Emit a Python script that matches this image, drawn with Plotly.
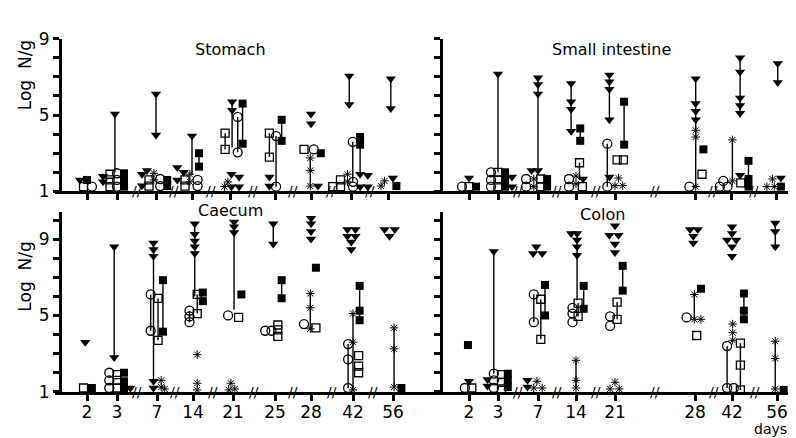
import plotly.graph_objects as go

W, H = 796, 438

# ---------------- data ----------------
LEFT_DAYS = [2, 3, 7, 14, 21, 25, 28, 42, 56]
RIGHT_DAYS = [2, 3, 7, 14, 21, 28, 42, 56]
PANEL_TITLES = ["Stomach", "Small intestine", "Caecum", "Colon"]
Y_TICK_LABELS = {1: "1", 5: "5", 9: "9"}

# columns: (day, series, slot, values, line)
#   series: cir = open circle, osq = open square, fsq = filled square,
#           tri = filled down-triangle, ast = asterisk
#   line: None | "r" (connect min..max) | number (line to that log value)
STOMACH = [
    (2, "tri", -1, [1.6], None), (2, "fsq", 0, [1.6], None),
    (2, "osq", -0.5, [1.25], None), (2, "cir", 0.7, [1.25], None),
    (3, "tri", -0.3, [5.05], 2.0), (3, "tri", -2, [1.8, 1.5], None),
    (3, "osq", -1, [1.25, 1.6, 1.9], None), (3, "cir", 0, [1.25, 1.6, 1.95], None),
    (3, "fsq", 1, [1.25, 1.6, 1.95], None),
    (7, "tri", 0, [6.1, 3.95], "r"), (7, "tri", -2, [1.9, 1.3], None),
    (7, "tri", -1.3, [2.1], None), (7, "osq", -1, [1.6, 1.28], None),
    (7, "ast", -0.3, [1.95, 1.6], None), (7, "cir", 0.6, [1.65, 1.28], None),
    (7, "fsq", 1.6, [1.6, 1.28], None),
    (14, "tri", 0, [3.9], 1.9), (14, "tri", -2.1, [2.25, 1.6], None),
    (14, "tri", -1.2, [2.0], None), (14, "osq", -1, [1.6, 1.28], None),
    (14, "ast", -0.3, [1.9, 1.5], None), (14, "cir", 0.8, [1.6, 1.28], None),
    (14, "fsq", 1, [3.0, 2.3], "r"),
    (21, "osq", -0.7, [4.05, 3.2], "r"), (21, "tri", 0.3, [5.7, 5.25], 3.3),
    (21, "cir", 1.1, [4.9, 3.05], "r"), (21, "fsq", 1.8, [5.6, 3.5], "r"),
    (21, "tri", 0.2, [1.9, 1.25], None), (21, "tri", 1.3, [1.75, 1.25], None),
    (21, "ast", -0.3, [1.5], None), (21, "ast", -0.8, [1.25], None),
    (25, "osq", -0.8, [4.05, 2.8], "r"), (25, "tri", -0.8, [1.75, 1.28], None),
    (25, "cir", 0.15, [3.9, 1.25], "r"), (25, "fsq", 0.95, [4.75, 3.65], "r"),
    (28, "tri", 0, [5.05, 4.55], None), (28, "osq", -1, [3.2], None),
    (28, "cir", 0.4, [3.2], None), (28, "fsq", 1.4, [3.0], None),
    (28, "ast", -0.1, [2.75, 2.1, 1.28], "r"), (28, "tri", 1, [1.28], None),
    (42, "tri", -0.25, [7.05, 5.55], "r"), (42, "cir", 0.25, [3.6], 1.5),
    (42, "fsq", 1.3, [3.85, 3.45], 1.9), (42, "tri", 1.3, [1.9, 1.25], None),
    (42, "osq", -2.6, [1.25], None), (42, "osq", -1.5, [1.6, 1.25], None),
    (42, "ast", -0.5, [1.9, 1.5], None), (42, "cir", 0.3, [1.5, 1.25], None),
    (42, "tri", 2.4, [1.85, 1.25], None),
    (56, "tri", 0.4, [6.9, 5.35], "r"), (56, "ast", -0.5, [1.55], None),
    (56, "ast", -1, [1.28], None), (56, "tri", 0.7, [1.7], None),
    (56, "fsq", 1.2, [1.28], None),
]

SMALL_INTESTINE = [
    (2, "cir", -1, [1.25], None), (2, "osq", 0, [1.25], None),
    (2, "fsq", 1, [1.25], None), (2, "tri", 0, [1.7], None),
    (3, "tri", 0, [7.15], 2.0), (3, "cir", -1, [2.0, 1.6, 1.25], None),
    (3, "osq", 0, [2.0, 1.6, 1.25], None), (3, "fsq", 1, [2.0, 1.6, 1.25], None),
    (3, "tri", 2, [1.75, 1.25], None),
    (7, "tri", 0, [6.95, 6.6, 6.1], 2.1), (7, "tri", -0.9, [2.1], None),
    (7, "tri", 0, [2.1], None), (7, "cir", -1.7, [1.65, 1.25], None),
    (7, "ast", -0.6, [1.65, 1.25], None), (7, "osq", 0.4, [1.65, 1.25], None),
    (7, "fsq", 1.3, [1.65, 1.25], None),
    (14, "tri", -0.7, [6.65, 5.7, 5.3, 4.15], "r"), (14, "fsq", 0.6, [4.3, 3.65], "r"),
    (14, "osq", 0.5, [2.5], 1.6), (14, "cir", -1, [1.65, 1.25], None),
    (14, "ast", 0, [1.8, 1.4], None), (14, "tri", 1, [1.65], None),
    (14, "osq", 0.9, [1.25], None),
    (21, "tri", -0.8, [7.1, 6.75, 6.35, 4.75], "r"), (21, "cir", -1.1, [3.5, 1.25], "r"),
    (21, "fsq", 1.3, [5.7, 3.45], "r"), (21, "osq", 0.3, [2.65], None),
    (21, "osq", 1.2, [2.65], None), (21, "tri", -0.8, [1.75], None),
    (21, "ast", 0.5, [1.7], None), (21, "ast", 0, [1.3], None),
    (21, "ast", 1.1, [1.3], None),
    (28, "tri", 0.1, [6.9, 5.6, 5.2, 4.75], 1.25), (28, "ast", 0.1, [4.2, 3.85, 1.25], None),
    (28, "cir", -0.8, [1.25], None), (28, "fsq", 1.2, [3.2], None),
    (28, "osq", 1, [1.9], None),
    (42, "tri", 1.3, [8.0, 7.25, 5.9, 5.5, 5.1], "r"), (42, "ast", 0.2, [3.7, 1.55], "r"),
    (42, "cir", -1.1, [1.55], None), (42, "cir", -1.6, [1.25], None),
    (42, "cir", -0.5, [1.25], None), (42, "tri", 1.3, [1.85], None),
    (42, "osq", 1.4, [1.45], None), (42, "fsq", 2.5, [2.6, 1.65, 1.25], "r"),
    (56, "tri", 0.25, [7.7, 6.7], "r"), (56, "ast", -0.5, [1.65], None),
    (56, "ast", -1.3, [1.25], None), (56, "ast", -0.25, [1.25], None),
    (56, "tri", 0.7, [1.7], None), (56, "fsq", 0.7, [1.25], None),
]

CAECUM = [
    (2, "tri", -0.25, [3.6], None), (2, "osq", -0.5, [1.2], None),
    (2, "fsq", 0.7, [1.2], None),
    (3, "tri", -0.4, [8.6, 2.8], "r"), (3, "cir", -1.1, [2.0, 1.6, 1.2], None),
    (3, "osq", 0, [1.9, 1.6, 1.2], None), (3, "fsq", 1, [2.0, 1.55, 1.2], None),
    (3, "tri", 1.9, [1.2], None),
    (7, "tri", -0.5, [8.8, 8.45, 8.1], 1.55), (7, "tri", -0.5, [1.55, 1.2], None),
    (7, "cir", -0.9, [6.1, 4.2], "r"), (7, "osq", 0.15, [5.9, 3.7], "r"),
    (7, "fsq", 0.85, [6.85, 4.15], "r"), (7, "ast", 0.6, [1.6, 1.25], None),
    (7, "ast", 1.1, [1.15], None),
    (14, "tri", 0.25, [9.8, 9.25, 8.9, 8.6, 8.25], 6.0), (14, "cir", -0.5, [5.25, 4.95, 4.65], "r"),
    (14, "osq", 0.6, [6.1, 5.1], "r"), (14, "fsq", 1.4, [6.2, 5.75], None),
    (14, "ast", 0.6, [2.95, 1.45, 1.1], None),
    (21, "tri", 0.15, [9.9, 9.65, 9.35], 5.3), (21, "cir", -0.7, [5.0], None),
    (21, "osq", 0.8, [4.9], None), (21, "fsq", 1.2, [6.1], None),
    (21, "ast", -0.3, [1.45], None), (21, "ast", 0.25, [1.15], None),
    (21, "ast", -0.6, [1.1], None),
    (25, "tri", -0.25, [9.8, 8.75], "r"), (25, "cir", -1.4, [4.2], None),
    (25, "cir", -0.5, [4.2], None), (25, "osq", 0.4, [4.5, 4.25, 3.9], None),
    (25, "fsq", 0.95, [6.85, 5.9], "r"),
    (28, "tri", 0, [10.1, 9.8, 9.4, 9.0], None), (28, "fsq", 0.7, [7.5], None),
    (28, "ast", -0.1, [6.15, 5.4, 4.3], "r"), (28, "cir", -1, [4.55], None),
    (28, "osq", 0.7, [4.35], None),
    (42, "tri", -0.8, [9.5, 9.15], None), (42, "tri", 0.35, [9.5, 9.15], None),
    (42, "tri", -0.25, [8.85, 8.45], None), (42, "cir", -0.7, [3.5, 2.7, 1.2], "r"),
    (42, "ast", 0, [5.1, 3.6, 1.1], "r"), (42, "osq", 0.8, [2.9, 2.35, 2.0], None),
    (42, "fsq", 0.95, [6.55, 5.25, 4.75], "r"),
    (56, "tri", -1.2, [9.5], None), (56, "tri", 0.25, [9.5], None),
    (56, "tri", -0.5, [9.15], None), (56, "ast", 0.15, [4.35, 3.25, 1.25], "r"),
    (56, "fsq", 1.2, [1.2], None),
]

COLON = [
    (2, "fsq", -0.15, [3.45], None), (2, "tri", 0, [1.55], None),
    (2, "cir", -0.6, [1.2], None), (2, "osq", 0.4, [1.2], None),
    (3, "tri", -0.6, [8.35], 1.95), (3, "tri", -1.5, [1.65, 1.3], None),
    (3, "cir", -0.6, [1.95, 1.6, 1.2], None), (3, "osq", 0.5, [1.9, 1.5, 1.15], None),
    (3, "fsq", 1.4, [1.95, 1.6, 1.25], None),
    (7, "tri", -0.25, [8.6], None), (7, "tri", -0.7, [8.25], None),
    (7, "tri", 0.6, [8.25], None), (7, "cir", -0.6, [6.1, 4.65], "r"),
    (7, "osq", 0.4, [5.85, 3.75], "r"), (7, "fsq", 1, [6.6, 5.0], "r"),
    (7, "tri", -1.5, [1.6, 1.25], None), (7, "ast", -0.15, [1.55], None),
    (7, "ast", -0.6, [1.2], None), (7, "ast", 0.6, [1.2], None),
    (14, "tri", -0.7, [9.3], None), (14, "tri", 0.15, [9.3, 8.95, 8.6, 8.15], 5.8),
    (14, "cir", -0.5, [5.4, 5.1, 4.65], None), (14, "osq", 0.3, [5.65, 4.95], "r"),
    (14, "fsq", 1.1, [6.55, 5.35], "r"), (14, "ast", 0, [2.65, 1.6, 1.2], "r"),
    (21, "tri", 0, [9.7, 8.75, 8.3], None), (21, "tri", -0.8, [9.2], None),
    (21, "tri", 0.5, [9.2], None), (21, "osq", 0.3, [5.7, 4.8], "r"),
    (21, "cir", -0.7, [4.95, 4.45], None), (21, "fsq", 1.1, [7.6, 6.3], "r"),
    (21, "ast", 0, [1.5], None), (21, "ast", -0.7, [1.15], None),
    (21, "ast", 0.6, [1.15], None),
    (28, "tri", -0.7, [9.5], None), (28, "tri", 0.4, [9.5], None),
    (28, "tri", -0.25, [9.15, 8.8], None), (28, "fsq", 0.85, [6.4], None),
    (28, "ast", -0.1, [6.1, 4.8], "r"), (28, "cir", -1.2, [4.9], None),
    (28, "ast", 0.85, [4.8], None), (28, "osq", 0.25, [3.95], None),
    (42, "tri", 0, [9.65, 9.3, 8.6, 8.1], None), (42, "tri", -0.7, [8.95], None),
    (42, "tri", 0.6, [8.95], None), (42, "fsq", 1.7, [6.15, 5.25, 4.8], "r"),
    (42, "ast", 0.1, [4.55, 4.1, 3.7], None), (42, "cir", -0.7, [3.4, 1.2], "r"),
    (42, "cir", 0.25, [1.2], None), (42, "osq", 1.2, [3.55, 2.4, 1.1], "r"),
    (56, "tri", -0.25, [9.85, 9.4, 8.6], "r"), (56, "ast", -0.25, [3.65, 2.75, 1.15], "r"),
    (56, "fsq", 0.95, [1.1], None),
]

# ---------------- layout / style ----------------
SLOT = 7.0  # px per column slot
FONT = "DejaVu Sans"
STYLE = {
    "cir": dict(symbol="circle-open", size=9, color="black", line=dict(width=1.3, color="black")),
    "osq": dict(symbol="square-open", size=8, color="black", line=dict(width=1.3, color="black")),
    "fsq": dict(symbol="square", size=8, color="black", line=dict(width=0)),
    "tri": dict(symbol="triangle-down", size=9, color="black", line=dict(width=0)),
    "ast": dict(symbol="asterisk-open", size=7, color="black", line=dict(width=1, color="black")),
}

PANELS = [
    (STOMACH, LEFT_DAYS, [79, 109, 148, 184, 222, 267, 303, 343, 380], "", (47, 400), (1, 9)),
    (SMALL_INTESTINE, RIGHT_DAYS, [461, 490, 530, 568, 607, 687, 723, 768], "2", (400, 790), (1, 9)),
    (CAECUM, LEFT_DAYS, [79, 109, 149, 185, 225, 267, 303, 345, 385], "3", (47, 400), (1, 10.42)),
    (COLON, RIGHT_DAYS, [461, 490, 530, 568, 607, 687, 724, 769], "4", (400, 790), (1, 10.42)),
]
Y_PX = {"": (181.7, 21.7), "2": (181.7, 21.7), "3": (391.7, 203.3), "4": (391.7, 203.3)}
YAXIS_X = {"": 52, "2": 433, "3": 52, "4": 433}

fig = go.Figure()
annotations = []
layout_axes = {}

for pi, (cols, days, tickpx, sfx, xr, yr) in enumerate(PANELS):
    xa, ya = "x" + sfx, "y" + sfx
    pos = dict(zip(days, tickpx))
    lx, ly = [], []
    for day, ser, slot, vals, line in cols:
        if line is None:
            continue
        x = pos[day] + slot * SLOT
        if line == "r":
            lo, hi = min(vals), max(vals)
        else:
            lo, hi = min(min(vals), line), max(max(vals), line)
        lx += [x, x, None]
        ly += [lo, hi, None]
    fig.add_trace(go.Scatter(x=lx, y=ly, mode="lines", xaxis=xa, yaxis=ya,
                             line=dict(color="black", width=1.4), hoverinfo="skip",
                             showlegend=False, cliponaxis=False))
    for ser in ["cir", "osq", "ast", "fsq", "tri"]:
        px, py = [], []
        for day, s, slot, vals, line in cols:
            if s != ser:
                continue
            for v in vals:
                px.append(pos[day] + slot * SLOT)
                py.append(v)
        fig.add_trace(go.Scatter(x=px, y=py, mode="markers", xaxis=xa, yaxis=ya,
                                 marker=STYLE[ser], showlegend=False, cliponaxis=False))

    bottom = sfx in ("3", "4")
    ybot, ytop = Y_PX[sfx]
    layout_axes["xaxis" + sfx] = dict(
        domain=[xr[0] / W, xr[1] / W], range=list(xr), anchor=ya,
        showline=True, linewidth=3, linecolor="black", showgrid=False, zeroline=False,
        ticks="outside", ticklen=6, tickwidth=3, tickcolor="black",
        tickvals=tickpx, ticktext=[str(d) for d in days],
        showticklabels=bottom, tickfont=dict(family=FONT, size=17, color="black"),
        ticklabelstandoff=-3,
    )
    ymax = int(yr[1])
    layout_axes["yaxis" + sfx] = dict(
        domain=[1 - ybot / H, 1 - ytop / H], range=list(yr), anchor="free",
        position=YAXIS_X[sfx] / W,
        showline=True, linewidth=3, linecolor="black", showgrid=False, zeroline=False,
        ticks="outside", ticklen=6, tickwidth=3, tickcolor="black",
        tickvals=list(range(1, ymax + 1)),
        ticktext=[Y_TICK_LABELS.get(v, "") for v in range(1, ymax + 1)],
        showticklabels=sfx in ("", "3"),
        tickfont=dict(family=FONT, size=17, color="black"),
    )
    for a, b in zip(tickpx[1:-1], tickpx[2:]):
        annotations.append(dict(x=(a + b) / 2, y=yr[0], xref=xa, yref=ya, text="//",
                                xanchor="center", yanchor="middle", showarrow=False,
                                font=dict(family=FONT, size=14, color="black")))


def txt(text, x, y, size=16, angle=0):
    return dict(x=x / W, y=1 - y / H, xref="paper", yref="paper", text=text,
                xanchor="center", yanchor="middle", textangle=angle, showarrow=False,
                font=dict(family=FONT, size=size, color="black"))


for title, (x, y) in zip(PANEL_TITLES, [(222, 33), (603, 33), (222, 202), (594, 206)]):
    annotations.append(txt(title, x, y))
for y in (60, 271):
    annotations.append(txt("Log  N/g", 17, y, size=17, angle=-90))
annotations.append(txt("days", 762, 431, size=14))

fig.update_layout(width=W, height=H, margin=dict(l=0, r=0, t=0, b=0),
                  plot_bgcolor="white", paper_bgcolor="white",
                  annotations=annotations, **layout_axes)

fig.write_html("out.html")
